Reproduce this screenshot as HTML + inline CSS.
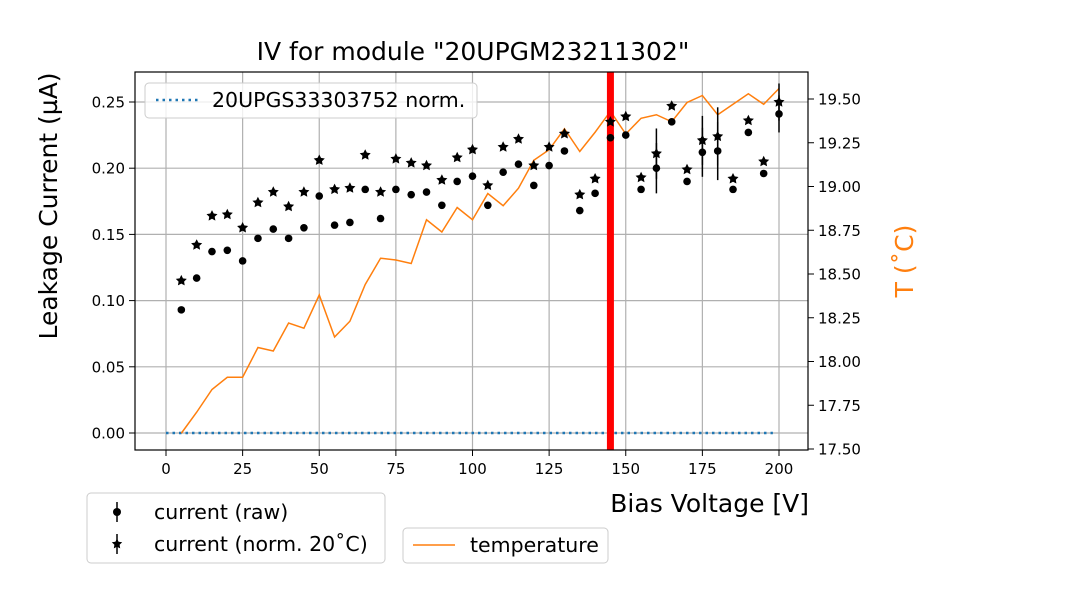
<!DOCTYPE html>
<html><head><meta charset="utf-8"><style>
body{margin:0;background:#fff}
svg{display:block;font-family:"DejaVu Sans","Liberation Sans",sans-serif}
</style></head><body>
<svg id="chart" width="1080" height="600" viewBox="0 0 1080 600">
<rect width="1080" height="600" fill="#fff"/>
<g id="grid"></g>
<g id="marks"></g>
<rect x="135" y="72" width="673" height="378" fill="none" stroke="#000" stroke-width="1.2"/>
<g id="axes"></g>
<text x="473" y="60" font-size="25" text-anchor="middle">IV for module "20UPGM23211302"</text>
<text transform="translate(57,206) rotate(-90)" font-size="25" text-anchor="middle">Leakage Current (µA)</text>
<text transform="translate(913,261) rotate(-90)" font-size="25" text-anchor="middle" fill="#ff7f0e">T (˚C)</text>
<text x="809" y="512" font-size="25" text-anchor="end">Bias Voltage [V]</text>
<g>
<rect x="145" y="83" width="332" height="35" rx="4" fill="#fff" fill-opacity="0.8" stroke="#ccc"/>
<line x1="156" y1="100" x2="198" y2="100" stroke="#1f77b4" stroke-width="2.5" stroke-dasharray="2.5,4"/>
<text x="212" y="107" font-size="20.5">20UPGS33303752 norm.</text>
</g>
<g>
<rect x="87" y="493" width="298" height="70" rx="4" fill="#fff" stroke="#ccc"/>
<line x1="117" y1="502" x2="117" y2="522" stroke="#000" stroke-width="1.5"/>
<circle cx="117" cy="512" r="4" fill="#000"/>
<text x="154" y="519" font-size="20.5">current (raw)</text>
<line x1="117" y1="534" x2="117" y2="554" stroke="#000" stroke-width="1.5"/>
<polygon id="legstar" fill="#000"/>
<text x="154" y="551" font-size="20.5">current (norm. 20˚C)</text>
</g>
<g>
<rect x="403" y="528" width="205" height="35" rx="4" fill="#fff" stroke="#ccc"/>
<line x1="413" y1="545" x2="455" y2="545" stroke="#ff7f0e" stroke-width="1.5"/>
<text x="470" y="552" font-size="20.5">temperature</text>
</g>
</svg>
<script>
const voltages=[5,10,15,20,25,30,35,40,45,50,55,60,65,70,75,80,85,90,95,100,105,110,115,120,125,130,135,140,145,150,155,160,165,170,175,180,185,190,195,200];
const rawCurrent=[0.093,0.117,0.137,0.138,0.130,0.147,0.154,0.147,0.155,0.179,0.157,0.159,0.184,0.162,0.184,0.180,0.182,0.172,0.190,0.194,0.172,0.197,0.203,0.187,0.202,0.213,0.168,0.181,0.223,0.225,0.184,0.200,0.235,0.190,0.212,0.213,0.184,0.227,0.196,0.241];
const normCurrent=[0.115,0.142,0.164,0.165,0.155,0.174,0.182,0.171,0.182,0.206,0.184,0.185,0.210,0.182,0.207,0.204,0.202,0.191,0.208,0.214,0.187,0.216,0.222,0.202,0.216,0.226,0.180,0.192,0.235,0.239,0.193,0.211,0.247,0.199,0.221,0.224,0.192,0.236,0.205,0.250];
const currentErr=[0,0,0,0,0,0,0,0,0,0,0,0,0,0,0,0,0,0,0,0,0,0,0,0,0,0,0,0,0,0,0,0.019,0,0,0.0185,0.022,0,0,0,0.014];
const temperature=[17.59,17.71,17.84,17.91,17.91,18.08,18.06,18.22,18.19,18.38,18.14,18.23,18.44,18.59,18.58,18.56,18.81,18.74,18.88,18.81,18.96,18.89,18.99,19.15,19.21,19.33,19.20,19.31,19.43,19.30,19.39,19.41,19.37,19.48,19.52,19.41,19.47,19.53,19.47,19.56];
const refVoltages=[0,2,4,6,8,10,12,14,16,18,20,22,24,26,28,30,32,34,36,38,40,42,44,46,48,50,52,54,56,58,60,62,64,66,68,70,72,74,76,78,80,82,84,86,88,90,92,94,96,98,100,102,104,106,108,110,112,114,116,118,120,122,124,126,128,130,132,134,136,138,140,142,144,146,148,150,152,154,156,158,160,162,164,166,168,170,172,174,176,178,180,182,184,186,188,190,192,194,196,198];
const refCurrent=refVoltages.map(()=>0);
const markerVoltage=[145];
const xTicks=[0,25,50,75,100,125,150,175,200];
const yTicks=[0,0.05,0.10,0.15,0.20,0.25];
const y2Ticks=[17.50,17.75,18.00,18.25,18.50,18.75,19.00,19.25,19.50];

const NS="http://www.w3.org/2000/svg";
const X=v=>166+v*(779-166)/200;
const Y=v=>433-v*(433-102)/0.25;
const Y2=t=>449-(t-17.5)*(449-99)/2.0;
function mk(tag,attrs,parent){const e=document.createElementNS(NS,tag);for(const k in attrs)e.setAttribute(k,attrs[k]);parent.appendChild(e);return e;}
function starPts(cx,cy,R){const r=R*0.5;let p=[];for(let i=0;i<10;i++){const a=-Math.PI/2+i*Math.PI/5;const rr=i%2?r:R;p.push((cx+rr*Math.cos(a)).toFixed(1)+","+(cy+rr*Math.sin(a)).toFixed(1));}return p.join(" ");}
document.getElementById('legstar').setAttribute('points',starPts(117,544,5.5));
const grid=document.getElementById('grid'),marks=document.getElementById('marks'),axes=document.getElementById('axes');
xTicks.forEach(t=>{
 const g=mk('line',{x1:X(t),x2:X(t),y1:72,y2:450,stroke:'#b0b0b0','stroke-width':1.2},grid);
 
 
 mk('line',{x1:X(t),x2:X(t),y1:450,y2:456,stroke:'#000'},axes);
 const l=mk('text',{x:X(t),y:474,'font-size':15,'text-anchor':'middle'},axes);l.textContent=t;
 
 
});
yTicks.forEach(t=>{
 const g=mk('line',{x1:135,x2:808,y1:Y(t),y2:Y(t),stroke:'#b0b0b0','stroke-width':1.2},grid);
 
 
 mk('line',{x1:129,x2:135,y1:Y(t),y2:Y(t),stroke:'#000'},axes);
 const l=mk('text',{x:125,y:Y(t)+5.5,'font-size':15,'text-anchor':'end'},axes);l.textContent=t.toFixed(2);
 
 
});
y2Ticks.forEach(t=>{
 mk('line',{x1:808,x2:814,y1:Y2(t),y2:Y2(t),stroke:'#000'},axes);
 const l=mk('text',{x:818,y:Y2(t)+5.5,'font-size':15},axes);l.textContent=t.toFixed(2);
 
 
});
const ref=mk('polyline',{points:refVoltages.map((v,i)=>X(v)+','+Y(refCurrent[i])).join(' '),fill:'none',stroke:'#1f77b4','stroke-width':2.5,'stroke-dasharray':'2.5,4'},marks);


const tl=mk('polyline',{points:voltages.map((v,i)=>X(v)+','+Y2(temperature[i])).join(' '),fill:'none',stroke:'#ff7f0e','stroke-width':1.5},marks);


markerVoltage.forEach(v=>{
 const r=mk('line',{x1:X(v),x2:X(v),y1:72,y2:450,stroke:'#ff0000','stroke-width':7},marks);
 
 
});
voltages.forEach((v,i)=>{
 const e=currentErr[i];
 if(e>0){
  [rawCurrent,normCurrent].forEach(arr=>{
   const b=mk('line',{x1:X(v),x2:X(v),y1:Y(arr[i]-e),y2:Y(arr[i]+e),stroke:'#000','stroke-width':1.5},marks);
   
   
  });
 }
 const c=mk('circle',{cx:X(v),cy:Y(rawCurrent[i]),r:3.8},marks);
 
 
 const s=mk('polygon',{points:starPts(X(v),Y(normCurrent[i]),5.8)},marks);
 
 
});
</script>
</body></html>
